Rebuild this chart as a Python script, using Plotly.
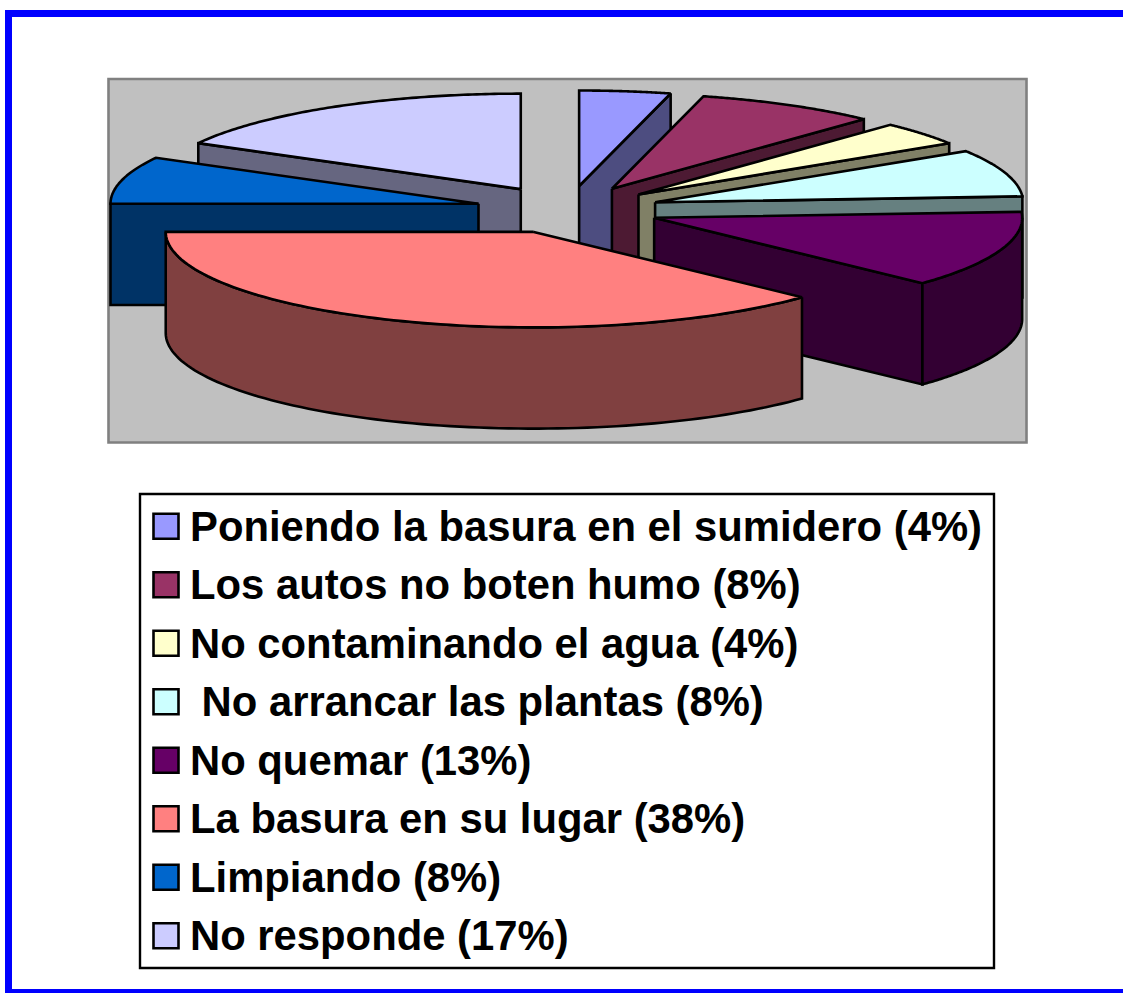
import numpy as np
import plotly.graph_objects as go

labels = ["Poniendo la basura en el sumidero", "Los autos no boten humo", "No contaminando el agua",
          "\u00a0No arrancar las plantas", "No quemar", "La basura en su lugar", "Limpiando", "No responde"]
values = [4, 8, 4, 8, 13, 38, 8, 17]
top_colors = ["#9999FF", "#993366", "#FFFFCC", "#CCFFFF", "#660066", "#FF8080", "#0066CC", "#CCCCFF"]
side_colors = ["#4D4D80", "#4D1A33", "#808066", "#668080", "#330033", "#804040", "#003366", "#666680"]
draw_order = [7, 6, 0, 1, 2, 3, 4, 5]

W, H = 1123, 993
EXPLODE = 0.25
DEPTH = 1.06
RX_PX, RY_PX = 368.0, 95.5
BOX = (108.5, 79, 1026.5, 442.5)
LEG = (140, 494, 994, 968)
CX_PX, CY_PX = 567.6, 209.7
TEXT_SHIFT = 4


def dom_x(a, b):
    return [a / W, b / W]


def dom_y(a, b):
    return [1 - b / H, 1 - a / H]


def rect(x0, y0, x1, y1, fill, line=None, lw=0):
    return dict(type="rect", xref="paper", yref="paper", x0=x0 / W, x1=x1 / W, y0=1 - y0 / H, y1=1 - y1 / H,
                fillcolor=fill, line=dict(color=line or fill, width=lw), layer="below")


fig = go.Figure()


def poly(xs, ys, color):
    fig.add_trace(go.Scatter(x=xs, y=ys, mode="lines", fill="toself", fillcolor=color, hoverinfo="skip",
                             line=dict(color="black", width=2.6, simplify=False), showlegend=False,
                             xaxis="x", yaxis="y"))


edges = np.radians(np.cumsum([0] + values) * 3.6)
for i in draw_order:
    a, b = edges[i], edges[i + 1]
    mid = (a + b) / 2
    ox, oy = EXPLODE * np.sin(mid), EXPLODE * np.cos(mid)
    if np.sin(a) < 0:
        ex, ey = ox + np.sin(a), oy + np.cos(a)
        poly([ox, ex, ex, ox, ox], [oy, ey, ey - DEPTH, oy - DEPTH, oy], side_colors[i])
    if np.sin(b) > 0:
        ex, ey = ox + np.sin(b), oy + np.cos(b)
        poly([ox, ex, ex, ox, ox], [oy, ey, ey - DEPTH, oy - DEPTH, oy], side_colors[i])
    w0, w1 = max(a, np.pi / 2), min(b, 3 * np.pi / 2)
    if w1 > w0:
        t = np.linspace(w0, w1, 90)
        rim_x, rim_y = ox + np.sin(t), oy + np.cos(t)
        poly(list(rim_x) + list(rim_x[::-1]) + [rim_x[0]],
             list(rim_y) + list(rim_y[::-1] - DEPTH) + [rim_y[0]], side_colors[i])
    t = np.linspace(a, b, 90)
    poly([ox] + list(ox + np.sin(t)) + [ox], [oy] + list(oy + np.cos(t)) + [oy], top_colors[i])

legend_text = [f"{l} ({v}%)" for l, v in zip(labels, values)]
fig.add_trace(go.Scatter(x=[26] * 8, y=legend_text, mode="markers", hoverinfo="skip", showlegend=False,
                         marker=dict(symbol="square", size=25, color=top_colors, line=dict(color="black", width=2.6)),
                         xaxis="x2", yaxis="y2"))
fig.add_trace(go.Scatter(x=[50] * 8, y=legend_text, mode="text", text=legend_text, textposition="middle right",
                         textfont=dict(family="Liberation Sans", size=41.8, color="black", weight="bold"),
                         hoverinfo="skip", showlegend=False, cliponaxis=False, xaxis="x2", yaxis="y3"))

hidden = dict(visible=False, showgrid=False, zeroline=False)
fig.update_layout(
    width=W, height=H, autosize=False, margin=dict(l=0, r=0, t=0, b=0),
    paper_bgcolor="white", plot_bgcolor="rgba(0,0,0,0)", showlegend=False,
    xaxis=dict(domain=dom_x(BOX[0], BOX[2]), range=[(BOX[0] - CX_PX) / RX_PX, (BOX[2] - CX_PX) / RX_PX], **hidden),
    yaxis=dict(domain=dom_y(BOX[1], BOX[3]), range=[(CY_PX - BOX[3]) / RY_PX, (CY_PX - BOX[1]) / RY_PX], **hidden),
    xaxis2=dict(domain=dom_x(LEG[0], LEG[2]), range=[0, LEG[2] - LEG[0]], anchor="y2", **hidden),
    yaxis2=dict(domain=dom_y(LEG[1], LEG[3]), type="category", categoryorder="array", categoryarray=legend_text,
                range=[7.55, -0.55], anchor="x2", **hidden),
    yaxis3=dict(domain=dom_y(LEG[1] + TEXT_SHIFT, LEG[3] + TEXT_SHIFT), type="category", categoryorder="array",
                categoryarray=legend_text, range=[7.55, -0.55], anchor="x2", **hidden),
    shapes=[
        rect(5, 10, 12, H, "#0000FF"),
        rect(5, 10, W, 17, "#0000FF"),
        rect(5, 989, W, H, "#0000FF"),
        rect(BOX[0], BOX[1], BOX[2], BOX[3], "#C0C0C0", "#808080", 2.6),
        rect(LEG[0], LEG[1], LEG[2], LEG[3], "white", "black", 2.4),
    ],
)

fig.write_html("out.html", config=dict(displayModeBar=False),
               post_script="document.body.style.margin='0';document.body.style.overflow='hidden';")
